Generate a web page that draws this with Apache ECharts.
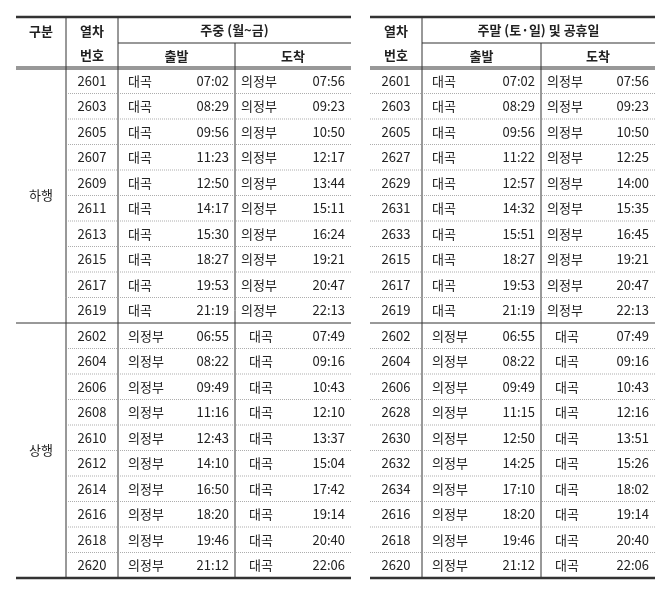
<!DOCTYPE html><html><head><meta charset="utf-8">
<script src="https://cdn.jsdelivr.net/npm/echarts@6/dist/echarts.min.js"></script>
<style>html,body{margin:0;background:#fff}#c{width:670px;height:595px}</style></head><body><div id="c"></div>
<script>
const wkTrain=['2601','2603','2605','2607','2609','2611','2613','2615','2617','2619','2602','2604','2606','2608','2610','2612','2614','2616','2618','2620'];
const wkDep=['07:02','08:29','09:56','11:23','12:50','14:17','15:30','18:27','19:53','21:19','06:55','08:22','09:49','11:16','12:43','14:10','16:50','18:20','19:46','21:12'];
const wkArr=['07:56','09:23','10:50','12:17','13:44','15:11','16:24','19:21','20:47','22:13','07:49','09:16','10:43','12:10','13:37','15:04','17:42','19:14','20:40','22:06'];
const weTrain=['2601','2603','2605','2627','2629','2631','2633','2615','2617','2619','2602','2604','2606','2628','2630','2632','2634','2616','2618','2620'];
const weDep=['07:02','08:29','09:56','11:22','12:57','14:32','15:51','18:27','19:53','21:19','06:55','08:22','09:49','11:15','12:50','14:25','17:10','18:20','19:46','21:12'];
const weArr=['07:56','09:23','10:50','12:25','14:00','15:35','16:45','19:21','20:47','22:13','07:49','09:16','10:43','12:16','13:51','15:26','18:02','19:14','20:40','22:06'];
const stations=['대곡','의정부'];
const directions=['하행','상행'];

(function(){
const F='"Noto Sans CJK KR", sans-serif', C='#222';
const yTop=17, hMid=43, hBot=68, rowH=25.5, bot=hBot+20*rowH;
const g=[];
function line(x1,y1,x2,y2,w,dash){g.push({type:'line',shape:{x1,y1,x2,y2},style:{stroke:dash?'#999':'#333',lineWidth:w,lineDash:dash?[1,1]:null}});}
function txt(x,y,t,align,bold){g.push({type:'text',x,y,style:{text:t,fill:C,font:(bold?'bold ':'')+'13px '+F,align:align||'center',verticalAlign:'middle'}});}
function table(xs,train,dep,arr,title,hasDir){
  const L=xs[0];
  const xT=hasDir?xs[1]:xs[0], xD=hasDir?xs[2]:xs[1], xA=hasDir?xs[3]:xs[2], xE=hasDir?xs[4]:xs[3];
  line(L,yTop,xE,yTop,2.5); line(L,hBot-1,xE,hBot-1,1.2); line(L,hBot+1,xE,hBot+1,1.2); line(L,bot,xE,bot,2.5);
  line(xD,hMid,xE,hMid,1.2);
  if(hasDir) line(xT,yTop,xT,bot,1);
  line(xD,yTop,xD,bot,1); line(xA,hMid,xA,bot,1);
  for(let i=1;i<20;i++){const y=hBot+i*rowH; if(i===10) line(L,y,xE,y,1); else line(xT,y,xE,y,0.8,true);}
  if(hasDir){txt((L+xT)/2,31,'구분','center',true); txt((L+xT)/2,hBot+5*rowH,directions[0]);txt((L+xT)/2,hBot+15*rowH,directions[1]);}
  txt((xT+xD)/2,31,'열차','center',true); txt((xT+xD)/2,55,'번호','center',true);
  txt((xD+xE)/2,30,title,'center',true);
  txt((xD+xA)/2,56,'출발','center',true); txt((xA+xE)/2,56,'도착','center',true);
  for(let i=0;i<20;i++){
    const y=hBot+(i+0.5)*rowH, s1=i<10?stations[0]:stations[1], s2=i<10?stations[1]:stations[0];
    txt((xT+xD)/2,y,train[i]);
    txt(xD+10,y,s1,'left'); txt(xA-6,y,dep[i],'right');
    txt(xA+(i<10?6:14),y,s2,'left'); txt(xE-6,y,arr[i],'right');
  }
}
table([16,66,118,235,351],wkTrain,wkDep,wkArr,'주중 (월~금)',true);
table([370,422,541,655],weTrain,weDep,weArr,'주말 (토·일) 및 공휴일',false);
const ch=echarts.init(document.getElementById('c'));
ch.setOption({animation:false,graphic:{elements:g}});
})();
</script></body></html>
